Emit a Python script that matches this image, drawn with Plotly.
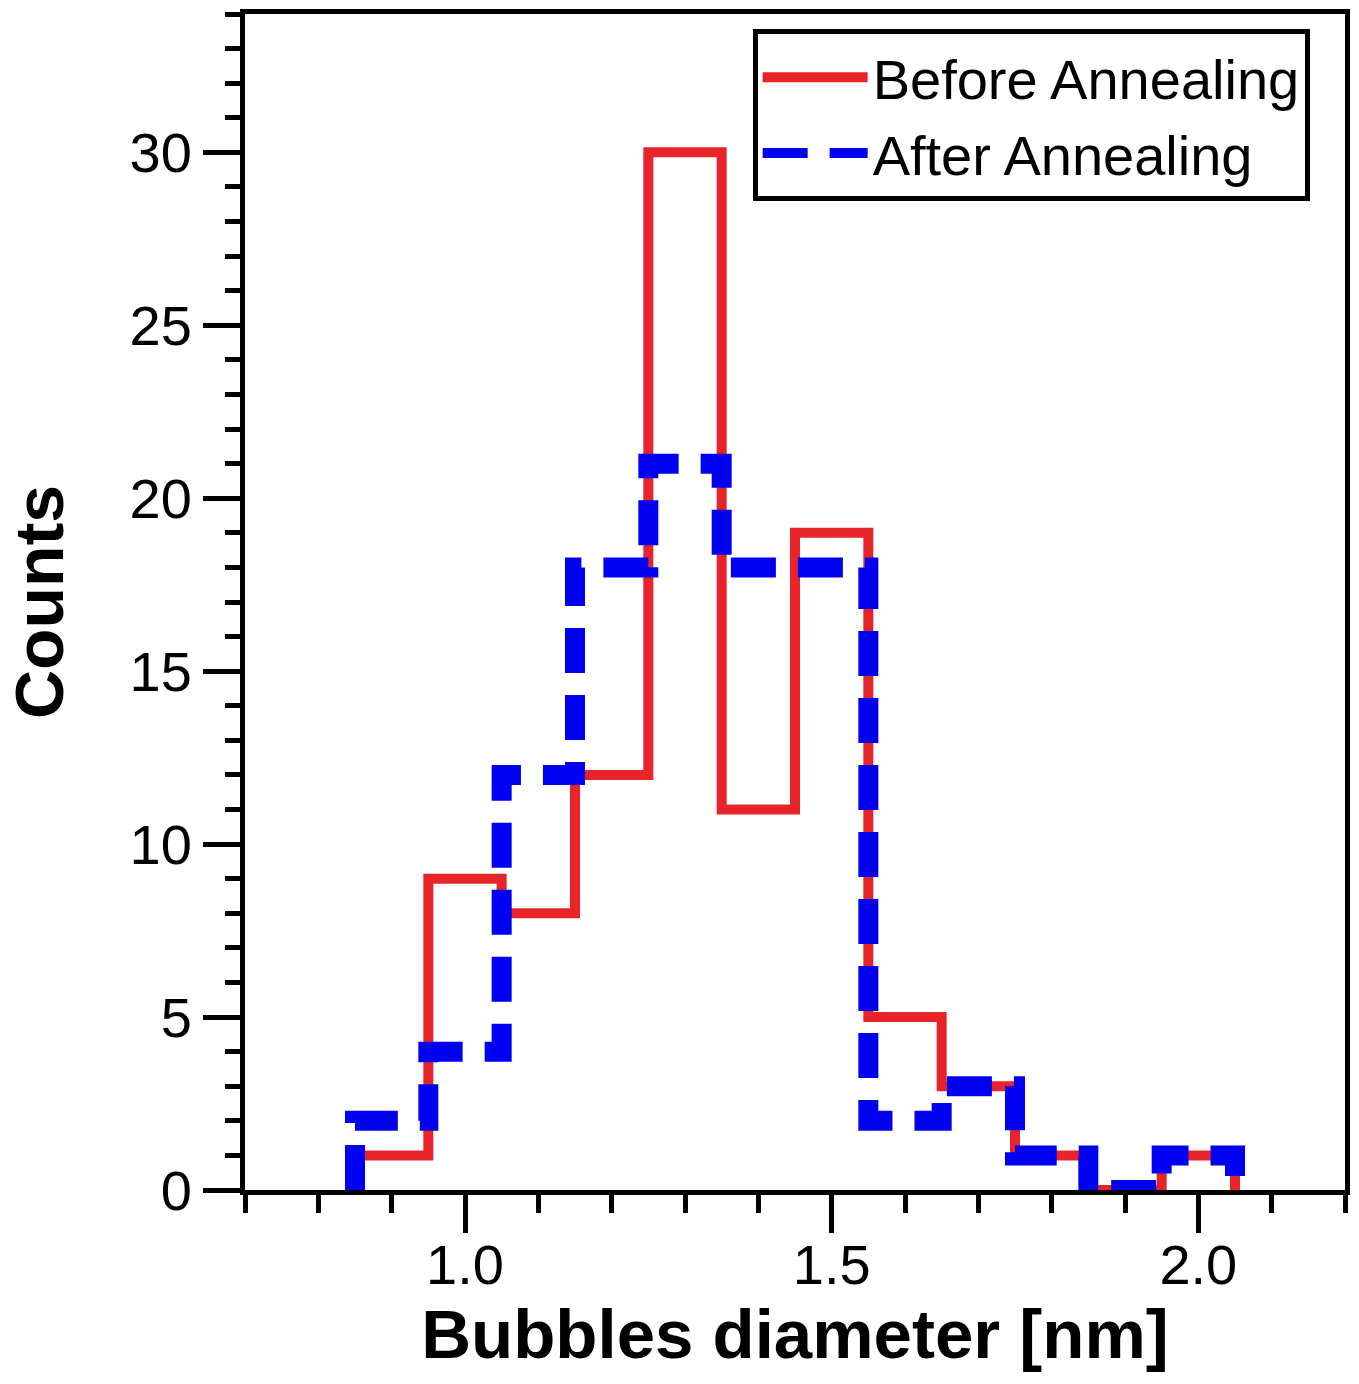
import plotly.graph_objects as go

# Bin edges (nm) of the histogram
bin_edges = [0.85, 0.95, 1.05, 1.15, 1.25, 1.35, 1.45, 1.55, 1.65, 1.75, 1.85, 1.95, 2.05]
# Counts per bin
before_counts = [1, 9, 8, 12, 30, 11, 19, 5, 3, 1, 0, 1]
after_counts = [2, 4, 12, 18, 21, 18, 18, 2, 3, 1, 0, 1]

series_names = ["Before Annealing", "After Annealing"]


def step_xy(edges, counts):
    xs = [edges[0]] + list(edges[:-1]) + [edges[-1]]
    ys = [0] + list(counts) + [0]
    return xs, ys


FONT = "Liberation Sans, Arial, Helvetica, sans-serif"

fig = go.Figure()
xb, yb = step_xy(bin_edges, before_counts)
fig.add_trace(go.Scatter(x=xb, y=yb, mode="lines", name=series_names[0],
                         line=dict(color="#e8242a", width=10, shape="hv")))
xa, ya = step_xy(bin_edges, after_counts)
fig.add_trace(go.Scatter(x=xa, y=ya, mode="lines", name=series_names[1],
                         line=dict(color="#0000f0", width=20, shape="hv", dash="45px,22px")))

fig.update_layout(
    width=1359, height=1384,
    margin=dict(l=245, r=9, t=12, b=194),
    plot_bgcolor="white", paper_bgcolor="white",
    font=dict(family=FONT, size=56, color="black"),
    showlegend=True,
    legend=dict(x=0.4615, y=0.987, xanchor="left", yanchor="top",
                bgcolor="white", bordercolor="black", borderwidth=5,
                font=dict(size=56, family=FONT), itemwidth=105,
                tracegroupgap=0),
    xaxis=dict(range=[0.7, 2.2], showline=True, linecolor="black", linewidth=5,
               mirror=True, showgrid=False, zeroline=False,
               ticks="outside", ticklen=38, tickwidth=5, tickcolor="black",
               tick0=0, dtick=0.5, tickformat=".1f", ticklabelstandoff=-16,
               minor=dict(ticks="outside", dtick=0.1, tick0=0, ticklen=18,
                          tickwidth=5, tickcolor="black", showgrid=False),
               title=dict(text="<b>Bubbles diameter [nm]</b>", font=dict(size=69, family=FONT),
                          standoff=14),
               tickfont=dict(size=56)),
    yaxis=dict(range=[0, 34], showline=True, linecolor="black", linewidth=5,
               mirror=True, showgrid=False, zeroline=False,
               ticks="outside", ticklen=37, tickwidth=5, tickcolor="black",
               tick0=0, dtick=5,
               minor=dict(ticks="outside", dtick=1, tick0=0, ticklen=15,
                          tickwidth=5, tickcolor="black", showgrid=False),
               title=dict(text="<b>Counts</b>", font=dict(size=68, family=FONT),
                          standoff=45),
               tickfont=dict(size=56)),
)

fig.write_html("out.html")
